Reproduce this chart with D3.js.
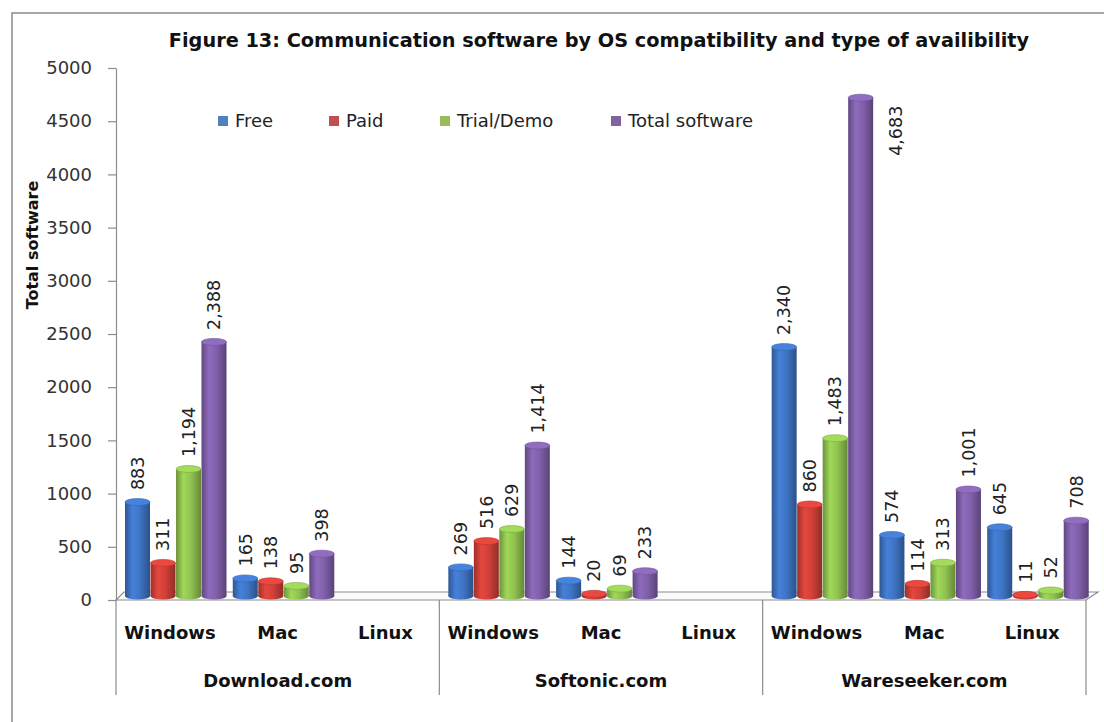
<!DOCTYPE html>
<html><head><meta charset="utf-8">
<script src="https://cdn.jsdelivr.net/npm/d3@7"></script>
<style>
body{margin:0;background:#fff;}
svg{display:block;font-family:"DejaVu Sans",sans-serif;}
</style></head>
<body><svg id="chart" width="1104" height="722"></svg>
<script>
// ---- data ----
const sites = ["Download.com", "Softonic.com", "Wareseeker.com"];
const osList = ["Windows", "Mac", "Linux"];
const series = ["Free", "Paid", "Trial/Demo", "Total software"];
const freeValues  = [883, 165, null, 269, 144, null, 2340, 574, 645];
const paidValues  = [311, 138, null, 516, 20, null, 860, 114, 11];
const trialValues = [1194, 95, null, 629, 69, null, 1483, 313, 52];
const totalValues = [2388, 398, null, 1414, 233, null, 4683, 1001, 708];
const yTicks = [0, 500, 1000, 1500, 2000, 2500, 3000, 3500, 4000, 4500, 5000];
const titleText = "Figure 13: Communication software by OS compatibility and type of availibility";
const yTitle = "Total software";

// ---- layout / style ----
const colors = ["#4F81BD", "#C0504D", "#9BBB59", "#8064A2"];
const barColors = ["#3E74C4", "#CF4038", "#90C250", "#8060AA"];
const W = 1104, H = 722;
const plot = {left: 116, right: 1086, top: 68, bottom: 600};
const depth = 8;

const svg = d3.select("#chart");
svg.append("rect").attr("width", W).attr("height", H).attr("fill", "#fff");
// outer frame (top and left visible)
svg.append("rect").attr("x", 12).attr("y", 13).attr("width", 1200).attr("height", 800)
  .attr("fill", "none").attr("stroke", "#8a8a8a").attr("stroke-width", 1.5);

const cats = [];
sites.forEach(s => osList.forEach(o => cats.push(s + "|" + o)));
const valuesBySeries = [freeValues, paidValues, trialValues, totalValues];

const x0 = d3.scaleBand().domain(cats).range([plot.left, plot.right]);
const x1 = d3.scaleBand().domain(series).range([0, 102]);
const y = d3.scaleLinear().domain([0, 5000]).range([plot.bottom, plot.top]);

// gradients
const defs = svg.append("defs");
barColors.forEach((c, i) => {
  const g = defs.append("linearGradient").attr("id", "grad" + i).attr("x1", 0).attr("x2", 1).attr("y1", 0).attr("y2", 0);
  const base = d3.color(c);
  g.append("stop").attr("offset", "0%").attr("stop-color", base.darker(0.8));
  g.append("stop").attr("offset", "30%").attr("stop-color", base.brighter(0.3));
  g.append("stop").attr("offset", "60%").attr("stop-color", base);
  g.append("stop").attr("offset", "100%").attr("stop-color", base.darker(1.0));
});

// floor
svg.append("path")
  .attr("d", `M${plot.left},${plot.bottom} L${plot.right},${plot.bottom} L${plot.right + 12},${plot.bottom - depth} L${plot.left + depth},${plot.bottom - depth} Z`)
  .attr("fill", "#fbfbfb").attr("stroke", "#8c8c8c").attr("stroke-width", 1.2);

// y axis
const yAxis = svg.append("g").attr("transform", `translate(${plot.left},0)`)
  .call(d3.axisLeft(y).tickValues(yTicks).tickSize(8).tickSizeOuter(0).tickPadding(16).tickFormat(d3.format("d")));
yAxis.select(".domain").attr("stroke", "#8c8c8c").attr("stroke-width", 1.2);
yAxis.selectAll(".tick line").attr("stroke", "#8c8c8c").attr("stroke-width", 1.2);
yAxis.selectAll(".tick text").attr("font-size", 18).attr("fill", "#333").attr("font-family", "DejaVu Sans");

// bars
const yOff = 4, xOff = 9, ry = 3.5;
const fmt = d3.format(",");
cats.forEach((cat, ci) => {
  series.forEach((s, si) => {
    const v = valuesBySeries[si][ci];
    if (v == null) return;
    const bx = x0(cat) + xOff + x1(s);
    const bw = x1.bandwidth() - 0.5;
    const cx = bx + bw / 2;
    const yb = y(0) - yOff, yt = y(v) - yOff;
    const g = svg.append("g");
    g.append("ellipse").attr("cx", cx).attr("cy", yb).attr("rx", bw / 2).attr("ry", ry).attr("fill", `url(#grad${si})`);
    g.append("rect").attr("x", bx).attr("y", yt).attr("width", bw).attr("height", Math.max(0, yb - yt)).attr("fill", `url(#grad${si})`);
    g.append("ellipse").attr("cx", cx).attr("cy", yt).attr("rx", bw / 2).attr("ry", ry)
      .attr("fill", d3.color(barColors[si]).brighter(0.35)).attr("stroke", d3.color(barColors[si]).darker(0.4)).attr("stroke-width", 0.6);
    // label
    const lbl = svg.append("text").text(fmt(v)).attr("font-size", 17.5).attr("fill", "#222").attr("dy", "0.36em");
    const len = lbl.node().getComputedTextLength();
    if (yt - 12 - len < plot.top - 20) {
      lbl.attr("text-anchor", "end").attr("transform", `translate(${cx + 35},${yt + 8}) rotate(-90)`);
    } else {
      lbl.attr("text-anchor", "start").attr("transform", `translate(${cx},${yt - 12}) rotate(-90)`);
    }
  });
});

// category axis
const xAxis = svg.append("g").attr("transform", `translate(0,${plot.bottom})`)
  .call(d3.axisBottom(x0).tickSize(0).tickFormat(d => d.split("|")[1]));
xAxis.select(".domain").remove();
xAxis.selectAll(".tick text").attr("y", 39).attr("dy", 0).attr("font-size", 18).attr("font-weight", "bold")
  .attr("fill", "#111").attr("font-family", "DejaVu Sans");

// site separators and labels
const bounds = sites.map((s, i) => x0(s + "|" + osList[0])).concat([plot.right]);
svg.selectAll("line.sep").data(bounds).join("line").attr("class", "sep")
  .attr("x1", d => d).attr("x2", d => d).attr("y1", plot.bottom).attr("y2", 695)
  .attr("stroke", "#8c8c8c").attr("stroke-width", 1.2);
svg.selectAll("text.site").data(sites).join("text").attr("class", "site")
  .attr("x", (d, i) => (bounds[i] + bounds[i + 1]) / 2).attr("y", 687)
  .attr("text-anchor", "middle").attr("font-size", 18).attr("font-weight", "bold").attr("fill", "#111")
  .text(d => d);

// title
svg.append("text").attr("x", 599).attr("y", 47).attr("text-anchor", "middle")
  .attr("font-size", 19.3).attr("font-weight", "bold").attr("fill", "#111").text(titleText);

// y title
svg.append("text").attr("transform", "translate(38,245) rotate(-90)").attr("text-anchor", "middle")
  .attr("font-size", 16).attr("font-weight", "bold").attr("fill", "#111").text(yTitle);

// legend
const legendX = [218, 329, 440, 611];
const lg = svg.selectAll("g.leg").data(series).join("g").attr("class", "leg")
  .attr("transform", (d, i) => `translate(${legendX[i]},121)`);
lg.append("rect").attr("x", 0).attr("y", -5).attr("width", 10).attr("height", 10).attr("fill", (d, i) => colors[i]);
lg.append("text").attr("x", 17).attr("dy", "0.36em").attr("font-size", 18).attr("fill", "#222").text(d => d);
</script></body></html>
